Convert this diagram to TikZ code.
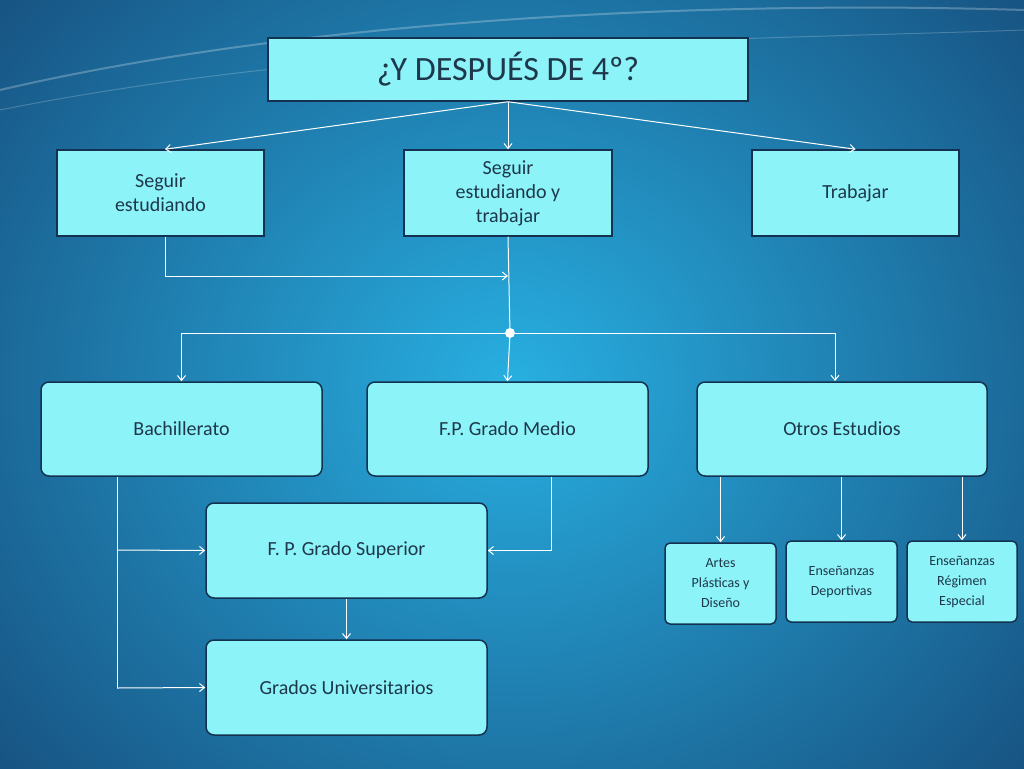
\documentclass[tikz,border=0pt]{standalone}
\usepackage{fontspec}
\setmainfont{Carlito}
\usetikzlibrary{arrows.meta}
\definecolor{boxfill}{RGB}{140,244,248}
\definecolor{boxline}{RGB}{20,50,80}
\definecolor{boxtext}{RGB}{30,55,75}
\definecolor{bgdark}{RGB}{22,78,125}
\definecolor{bglight}{RGB}{40,175,225}

\begin{document}
\begin{tikzpicture}[x=1pt,y=-1pt]
\tikzset{sqbox/.style={draw=boxline,line width=1.5pt,fill=boxfill,text=boxtext,align=center,font=\fontsize{20}{24}\selectfont,inner sep=2pt},
rbox/.style={sqbox,rounded corners=8pt},
smallbox/.style={rbox,font=\fontsize{14}{20}\selectfont,rounded corners=5pt},
link/.style={draw=white,line width=1pt,-{Straight Barb[length=5pt,width=8pt]}},
plain/.style={draw=white,line width=1pt}}
\useasboundingbox (0,0) rectangle (1024,768);
\shade[inner color=bglight,outer color=bgdark] (-200,-250) rectangle (1224,1018);
\draw[white,opacity=.25,line width=2pt] (0,90) .. controls (300,20) and (700,0) .. (1024,10);
\draw[white,opacity=.2,line width=1pt] (0,110) .. controls (350,40) and (750,40) .. (1024,30);

\node[sqbox,minimum width=480,minimum height=63,font=\fontsize{34}{40}\selectfont] (top) at (508,69.5) {¿Y DESPUÉS DE 4º?};
\node[sqbox,minimum width=207,minimum height=86] (seguir) at (160.5,193) {Seguir\\estudiando};
\node[sqbox,minimum width=208,minimum height=86] (ambos) at (508,193) {Seguir\\estudiando y\\trabajar};
\node[sqbox,minimum width=207,minimum height=86] (trabajar) at (855.5,193) {Trabajar};

\node[rbox,minimum width=281,minimum height=94] (bach) at (181.5,429) {Bachillerato};
\node[rbox,minimum width=281,minimum height=94] (medio) at (507.5,429) {F.P. Grado Medio};
\node[rbox,minimum width=290,minimum height=94] (otros) at (842,429) {Otros Estudios};
\node[rbox,minimum width=281,minimum height=95] (superior) at (346.5,550.5) {F. P. Grado Superior};
\node[rbox,minimum width=281,minimum height=95] (grados) at (346.5,687.5) {Grados Universitarios};

\node[smallbox,minimum width=111,minimum height=81] (artes) at (720.5,583.5) {Artes\\Plásticas y\\Diseño};
\node[smallbox,minimum width=111,minimum height=81] (deport) at (841.5,581.5) {Enseñanzas\\Deportivas};
\node[smallbox,minimum width=110,minimum height=81] (regimen) at (962,581.5) {Enseñanzas\\Régimen\\Especial};

\coordinate (hub) at (510,333);
\coordinate (join) at (508,276);
\draw[link] (top.south) -- (seguir.north -| 165,0);
\draw[link] (top.south) -- (ambos.north);
\draw[link] (top.south) -- (trabajar.north);
\draw[link] (seguir.south -| 165,0) |- (join);
\draw[plain] (ambos.south) -- (hub);
\fill[white] (hub) circle (5);
\draw[link] (hub) -| (bach.north);
\draw[link] (hub) -- (medio.north);
\draw[link] (hub) -| (835,381);
\draw[plain] (bach.south -| 117,0) -- (117,688);
\draw[link] (117,550) -- (superior.west);
\draw[link] (117,688) -- (grados.west);
\draw[link] (medio.south -| 551,0) |- (superior.east);
\draw[link] (superior.south) -- (grados.north);
\draw[link] (otros.south -| artes.north) -- (artes.north);
\draw[link] (otros.south -| deport.north) -- (deport.north);
\draw[link] (otros.south -| regimen.north) -- (regimen.north);
\end{tikzpicture}
\end{document}
